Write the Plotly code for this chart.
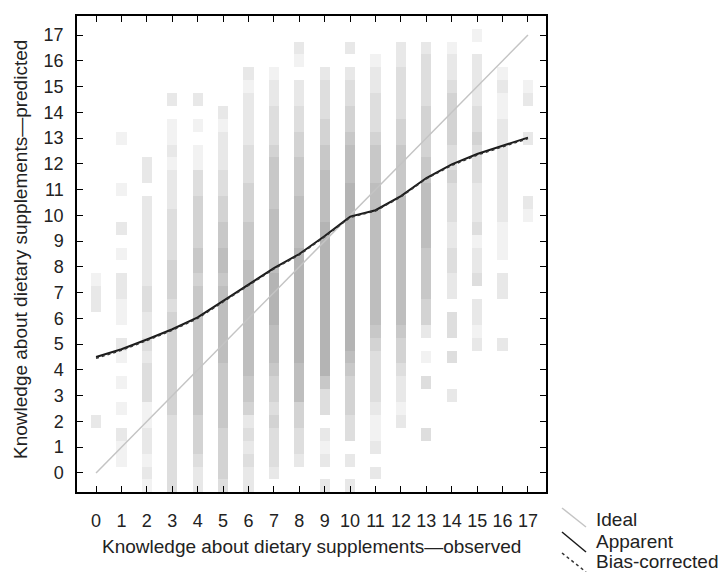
import plotly.graph_objects as go

# ---------------- data ----------------
observed = list(range(18))                       # x categories 0..17
tick_vals = list(range(18))
# y grid of the density cells (predicted values), -0.5 .. 17 in steps of 0.5
y_grid = [-0.5 + 0.5 * k for k in range(36)]

# shade (0 = none ... 7 = darkest) of predicted-value cells per observed score
shade_x0 = [0,0,0,0, 0,2,0,0, 0,0,0,0, 0,0,2,2, 1,0,0,0, 0,0,0,0, 0,0,0,0, 0,0,0,0, 0,0,0,0]
shade_x1 = [0,0,1,1, 2,0,1,0, 1,0,1,2, 0,1,1,2, 2,0,1,0, 2,0,0,1, 0,0,0,1, 0,0,0,0, 0,0,0,0]
shade_x2 = [1,2,1,2, 2,1,1,3, 3,3,2,3, 2,2,3,3, 2,2,2,2, 2,2,2,0, 2,2,0,0, 0,0,0,0, 0,0,0,0]
shade_x3 = [3,3,3,3, 3,3,4,4, 4,4,4,4, 4,4,3,4, 4,4,3,3, 3,3,2,2, 2,1,2,1, 1,0,2,0, 0,0,0,0]
shade_x4 = [2,2,3,4, 4,4,5,5, 5,5,5,5, 5,5,5,5, 4,5,5,4, 4,4,4,3, 3,1,1,0, 1,0,2,0, 0,0,0,0]
shade_x5 = [3,4,4,4, 4,5,5,5, 5,5,6,6, 6,6,6,6, 5,6,6,5, 5,4,4,3, 3,2,2,2, 1,2,0,0, 0,0,0,0]
shade_x6 = [2,2,3,2, 3,2,4,5, 5,6,6,6, 6,6,6,6, 6,6,5,5, 5,4,4,4, 3,3,3,2, 2,2,2,1, 2,0,0,0]
shade_x7 = [0,2,3,3, 3,4,3,4, 4,5,6,6, 6,7,7,7, 7,6,6,6, 6,6,5,5, 5,5,4,3, 3,3,2,2, 1,0,0,0]
shade_x8 = [0,0,2,3, 3,4,4,6, 6,6,7,7, 7,7,7,7, 7,7,7,6, 6,6,6,5, 5,5,4,4, 3,3,2,2, 0,1,2,0]
shade_x9 = [2,0,2,1, 2,0,3,3, 5,7,7,7, 7,7,7,7, 7,7,7,7, 7,6,6,6, 6,5,5,4, 4,3,3,3, 2,0,0,0]
shade_x10 = [2,0,2,0, 3,3,4,4, 4,5,6,7, 7,7,7,7, 7,7,7,7, 7,7,7,7, 6,6,6,5, 4,4,3,3, 2,0,2,0]
shade_x11 = [0,2,0,2, 1,1,2,3, 3,3,3,4, 5,6,6,6, 6,6,6,6, 6,6,6,6, 5,5,5,4, 3,3,3,2, 2,1,0,0]
shade_x12 = [0,0,0,0, 0,2,1,2, 2,3,4,4, 5,6,6,6, 6,6,6,6, 6,6,6,5, 5,5,5,4, 4,3,3,3, 3,2,2,0]
shade_x13 = [0,0,0,0, 3,0,0,0, 3,0,1,0, 2,4,4,5, 5,5,5,6, 6,6,6,6, 5,5,4,4, 4,4,3,3, 3,3,2,0]
shade_x14 = [0,0,0,0, 0,0,0,2, 0,0,3,0, 3,3,0,2, 2,3,3,2, 2,3,3,3, 4,3,3,4, 4,4,4,3, 2,2,1,0]
shade_x15 = [0,0,0,0, 0,0,0,0, 0,0,0,2, 1,2,2,0, 3,2,2,1, 3,2,2,2, 3,3,3,4, 3,3,2,2, 2,2,0,1]
shade_x16 = [0,0,0,0, 0,0,0,0, 0,0,0,2, 0,0,0,2, 2,0,1,1, 1,2,2,2, 2,2,2,2, 2,1,1,2, 1,0,0,0]
shade_x17 = [0,0,0,0, 0,0,0,0, 0,0,0,0, 0,0,0,0, 0,0,0,0, 0,1,2,0, 0,0,0,2, 0,0,2,1, 0,0,0,0]

# calibration curves (predicted value at each observed score)
ideal_x = [0, 17]
ideal_y = [0, 17]
apparent_y = [4.50, 4.80, 5.18, 5.58, 6.04, 6.68, 7.30, 7.95, 8.50, 9.20,
              9.95, 10.20, 10.75, 11.45, 11.98, 12.38, 12.70, 13.02]
bias_corrected_y = [4.45, 4.76, 5.14, 5.54, 6.00, 6.64, 7.26, 7.92, 8.47, 9.17,
                    9.92, 10.17, 10.72, 11.42, 11.94, 12.34, 12.66, 12.98]

x_title = "Knowledge about dietary supplements\u2014observed"
y_title = "Knowledge about dietary supplements\u2014predicted"
legend_labels = ["Ideal", "Apparent", "Bias-corrected"]

# ---------------- figure ----------------
columns = [shade_x0, shade_x1, shade_x2, shade_x3, shade_x4, shade_x5, shade_x6,
           shade_x7, shade_x8, shade_x9, shade_x10, shade_x11, shade_x12,
           shade_x13, shade_x14, shade_x15, shade_x16, shade_x17]

bx, bbase, bcol = [], [], []
for xi, col in zip(observed, columns):
    for yv, s in zip(y_grid, col):
        if s > 0:
            g = int(round(253 - 10.5 * s))
            bx.append(xi)
            bbase.append(yv - 0.25)
            bcol.append(f"rgb({g},{g},{g})")

fig = go.Figure()
fig.add_trace(go.Bar(x=bx, y=[0.5] * len(bx), base=bbase, width=0.4,
                     marker=dict(color=bcol, line=dict(width=0)),
                     showlegend=False, hoverinfo="skip"))
fig.add_trace(go.Scatter(x=ideal_x, y=ideal_y, mode="lines",
                         line=dict(color="#c4c4c4", width=1.5), showlegend=False))
fig.add_trace(go.Scatter(x=observed, y=apparent_y, mode="lines",
                         line=dict(color="#1a1a1a", width=2), showlegend=False))
fig.add_trace(go.Scatter(x=observed, y=bias_corrected_y, mode="lines",
                         line=dict(color="#333333", width=1.5, dash="dot"),
                         showlegend=False))

font = dict(family="Liberation Sans, Arial, sans-serif", size=18, color="#222222")
title_font = dict(family="Liberation Sans, Arial, sans-serif", size=19, color="#222222")
axis_common = dict(showline=True, linecolor="black", linewidth=1.5, mirror="ticks",
                   ticks="inside", ticklen=6, tickwidth=1, tickcolor="black",
                   tickmode="array", tickvals=tick_vals,
                   ticktext=[str(v) for v in tick_vals], automargin=False,
                   showgrid=False, zeroline=False, tickfont=font)

L, R, T, B = 77, 546, 16, 492
fig.update_layout(
    width=718, height=572,
    margin=dict(l=L, r=718 - R, t=T, b=572 - B),
    plot_bgcolor="white", paper_bgcolor="white",
    barmode="overlay", bargap=0,
    font=font,
    xaxis=dict(range=[-0.75, 17.71], ticklabelstandoff=12, **axis_common),
    yaxis=dict(range=[-0.74, 17.74], ticklabelstandoff=8, **axis_common),
)

def px_to_paper(px, py):
    return (px - L) / float(R - L), (B - py) / float(B - T)

# axis titles
ax_x, ax_y = px_to_paper(311, 546)
fig.add_annotation(text=x_title, xref="paper", yref="paper", x=ax_x, y=ax_y,
                   xanchor="center", yanchor="middle", showarrow=False, font=title_font)
ay_x, ay_y = px_to_paper(20, 250)
fig.add_annotation(text=y_title, xref="paper", yref="paper", x=ay_x, y=ay_y,
                   xanchor="center", yanchor="middle", textangle=-90,
                   showarrow=False, font=title_font)

# legend drawn as diagonal strokes + text (outside the plot, lower right)
leg_styles = [dict(color="#c4c4c4", width=1.5, dash="solid"),
              dict(color="#1a1a1a", width=1.5, dash="solid"),
              dict(color="#333333", width=1.5, dash="dot")]
leg_segments = [((562, 508), (586, 527)), ((562, 532), (586, 552)), ((562, 553), (586, 572))]
leg_text_y = [519, 541, 561]
for lab, sty, seg, ty in zip(legend_labels, leg_styles, leg_segments, leg_text_y):
    x0, y0 = px_to_paper(*seg[0])
    x1, y1 = px_to_paper(*seg[1])
    fig.add_shape(type="line", xref="paper", yref="paper", x0=x0, y0=y0, x1=x1, y1=y1,
                  line=sty)
    tx, tyy = px_to_paper(594, ty)
    fig.add_annotation(text=lab, xref="paper", yref="paper", x=tx, y=tyy,
                       xanchor="left", yanchor="middle", showarrow=False, font=title_font)

fig.write_html("out.html", config={"displayModeBar": False},
               post_script="document.body.style.margin='0';"
                           "document.body.style.overflow='hidden';")
